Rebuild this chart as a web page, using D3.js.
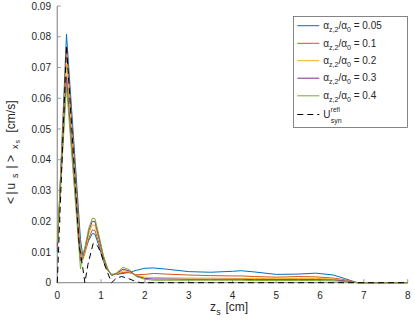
<!DOCTYPE html>
<html><head><meta charset="utf-8">
<script src="https://cdn.jsdelivr.net/npm/d3@7"></script>
<style>body{margin:0;background:#fff}svg{display:block}text{font-family:"Liberation Sans",Arial,sans-serif}</style>
</head><body>
<script>
const zGrid = [0,0.21,0.53,0.58,0.63,0.72,0.8,0.86,0.95,1.05,1.15,1.24,1.35,1.5,1.65,1.8,2.0,2.2,2.5,3.0,3.5,4.0,4.2,4.5,5.0,5.5,5.9,6.3,6.55,6.85,7.0,8.0];
const blue   = [0.010,0.0808,0.014,0.009,0.0105,0.0138,0.0160,0.0158,0.0120,0.0070,0.0040,0.0028,0.0027,0.0030,0.0034,0.0040,0.0047,0.0048,0.0044,0.0036,0.0034,0.0037,0.0039,0.0035,0.0027,0.0028,0.0031,0.0025,0.0014,0,0,0];
const orange = [0.011,0.0765,0.011,0.0075,0.0095,0.0145,0.0172,0.0170,0.0130,0.0075,0.0040,0.0025,0.0027,0.0034,0.0032,0.0026,0.0027,0.0030,0.0028,0.0025,0.0023,0.0022,0.0022,0.0020,0.0018,0.0020,0.0019,0.0015,0.0010,0,0,0];
const yellow = [0.012,0.0710,0.009,0.008,0.010,0.0160,0.0188,0.0186,0.0140,0.0080,0.0042,0.0024,0.0028,0.0039,0.0035,0.0024,0.0018,0.0017,0.0016,0.0015,0.0015,0.0014,0.0014,0.0014,0.0013,0.0014,0.0014,0.0012,0.0008,0,0,0];
const purple = [0.012,0.0670,0.007,0.0085,0.011,0.0170,0.0200,0.0198,0.0148,0.0085,0.0044,0.0024,0.0030,0.0044,0.0038,0.0022,0.0014,0.0012,0.0012,0.0011,0.0011,0.0011,0.0011,0.0010,0.0010,0.0010,0.0010,0.0009,0.0006,0,0,0];
const green  = [0.013,0.0640,0.0045,0.009,0.0115,0.0178,0.0210,0.0208,0.0155,0.0090,0.0046,0.0024,0.0032,0.0050,0.0042,0.0020,0.0011,0.0008,0.0008,0.0008,0.0008,0.0008,0.0008,0.0007,0.0007,0.0007,0.0007,0.0006,0.0004,0,0,0];
const zRef   = [0,0.21,0.5,0.56,0.6,0.63,0.7,0.82,0.92,1.0,1.1,1.24,1.35,1.47,1.6,1.75,1.9,2.5,8];
const uRef   = [0,0.0772,0.012,0.007,0.003,0,0.006,0.0128,0.012,0.0095,0.005,0,0.0015,0.002,0.0015,0.0006,0,0,0];
const ratios = ["0.05","0.1","0.2","0.3","0.4"];
const xTicks = [0,1,2,3,4,5,6,7,8];
const yTicks = [0,0.01,0.02,0.03,0.04,0.05,0.06,0.07,0.08,0.09];

const colors = ["#0072BD","#D95319","#EDB120","#7E2F8E","#77AC30"];
const series = [blue,orange,yellow,purple,green];

const W=415,H=323;
const svg=d3.select("body").append("svg").attr("width",W).attr("height",H);
const x=d3.scaleLinear().domain([0,8]).range([57.3,407.7]);
const y=d3.scaleLinear().domain([0,0.09]).range([282.7,6]);
const axCol="#9a9a9a", txtCol="#262626";

// axes
svg.append("line").attr("x1",x(0)).attr("x2",x(8)).attr("y1",y(0)).attr("y2",y(0)).attr("stroke",axCol).attr("stroke-width",1.3);
svg.append("line").attr("x1",x(0)).attr("x2",x(0)).attr("y1",y(0)).attr("y2",y(0.09)).attr("stroke",axCol).attr("stroke-width",1.3);
xTicks.forEach(t=>{
  svg.append("line").attr("x1",x(t)).attr("x2",x(t)).attr("y1",y(0)).attr("y2",y(0)-3.5).attr("stroke",axCol);
  svg.append("text").attr("x",x(t)).attr("y",299).attr("text-anchor","middle").attr("font-size",10).attr("fill",txtCol).text(d3.format("d")(t));
});
yTicks.forEach(t=>{
  svg.append("line").attr("x1",x(0)).attr("x2",x(0)+3.5).attr("y1",y(t)).attr("y2",y(t)).attr("stroke",axCol);
  svg.append("text").attr("x",51).attr("y",y(t)+3.6).attr("text-anchor","end").attr("font-size",10).attr("fill",txtCol).text(t===0?"0":d3.format(".2f")(t));
});

// lines
const line=d3.line().x(d=>x(d[0])).y(d=>y(d[1]));
series.forEach((s,i)=>{
  svg.append("path").attr("d",line(zGrid.map((z,j)=>[z,s[j]]))).attr("fill","none").attr("stroke",colors[i]).attr("stroke-width",1);
});
svg.append("path").attr("d",line(zRef.map((z,j)=>[z,uRef[j]]))).attr("fill","none").attr("stroke","#000").attr("stroke-width",1).attr("stroke-dasharray","6,4");

// x label
const xl=svg.append("text").attr("y",311).attr("font-size",12).attr("fill",txtCol);
xl.append("tspan").attr("x",210).text("z");
xl.append("tspan").attr("x",216.3).attr("dy",3.5).attr("font-size",9).text("s");
xl.append("tspan").attr("x",225.5).attr("dy",-3.5).text("[cm]");

// y label (rotated)
const yl=svg.append("text").attr("transform","translate(14.5,204) rotate(-90)").attr("font-size",12).attr("fill",txtCol);
yl.append("tspan").attr("x",0).text("<");
yl.append("tspan").attr("x",9.5).text("|");
yl.append("tspan").attr("x",14.5).text("u");
yl.append("tspan").attr("x",26).attr("dy",3.5).attr("font-size",9).text("s");
yl.append("tspan").attr("x",35.5).attr("dy",-3.5).text("|");
yl.append("tspan").attr("x",42).text(">");
yl.append("tspan").attr("x",55).attr("dy",3.5).attr("font-size",9).text("x");
yl.append("tspan").attr("x",60.5).attr("dy",2).attr("font-size",7).text("s");
yl.append("tspan").attr("x",71.5).attr("dy",-5.5).text("[cm/s]");

// legend
const lg=svg.append("g");
lg.append("rect").attr("x",293.5).attr("y",16.5).attr("width",114).attr("height",111).attr("fill","#fff").attr("stroke","#666").attr("stroke-width",0.8);
const rowY=[25.7,43.3,60.7,78.2,95.8];
ratios.forEach((r,i)=>{
  lg.append("line").attr("x1",297.3).attr("x2",319.3).attr("y1",rowY[i]).attr("y2",rowY[i]).attr("stroke",colors[i]).attr("stroke-width",1);
  const t=lg.append("text").attr("x",323.3).attr("y",rowY[i]+3.2).attr("font-size",10).attr("fill",txtCol);
  t.append("tspan").text("α");
  t.append("tspan").attr("dy",3).attr("font-size",7).text("z,2");
  t.append("tspan").attr("dy",-3).text("/α");
  t.append("tspan").attr("dy",3).attr("font-size",7).text("0");
  t.append("tspan").attr("dy",-3).text(" = "+r);
});
lg.append("line").attr("x1",297.3).attr("x2",319.3).attr("y1",114.5).attr("y2",114.5).attr("stroke","#000").attr("stroke-width",1).attr("stroke-dasharray","6,4");
lg.append("text").attr("x",323.3).attr("y",118).attr("font-size",10).attr("fill",txtCol).text("U");
lg.append("text").attr("x",330.8).attr("y",112).attr("font-size",6.5).attr("fill",txtCol).text("refl");
lg.append("text").attr("x",330.8).attr("y",123).attr("font-size",7).attr("fill",txtCol).text("syn");
</script>
</body></html>
